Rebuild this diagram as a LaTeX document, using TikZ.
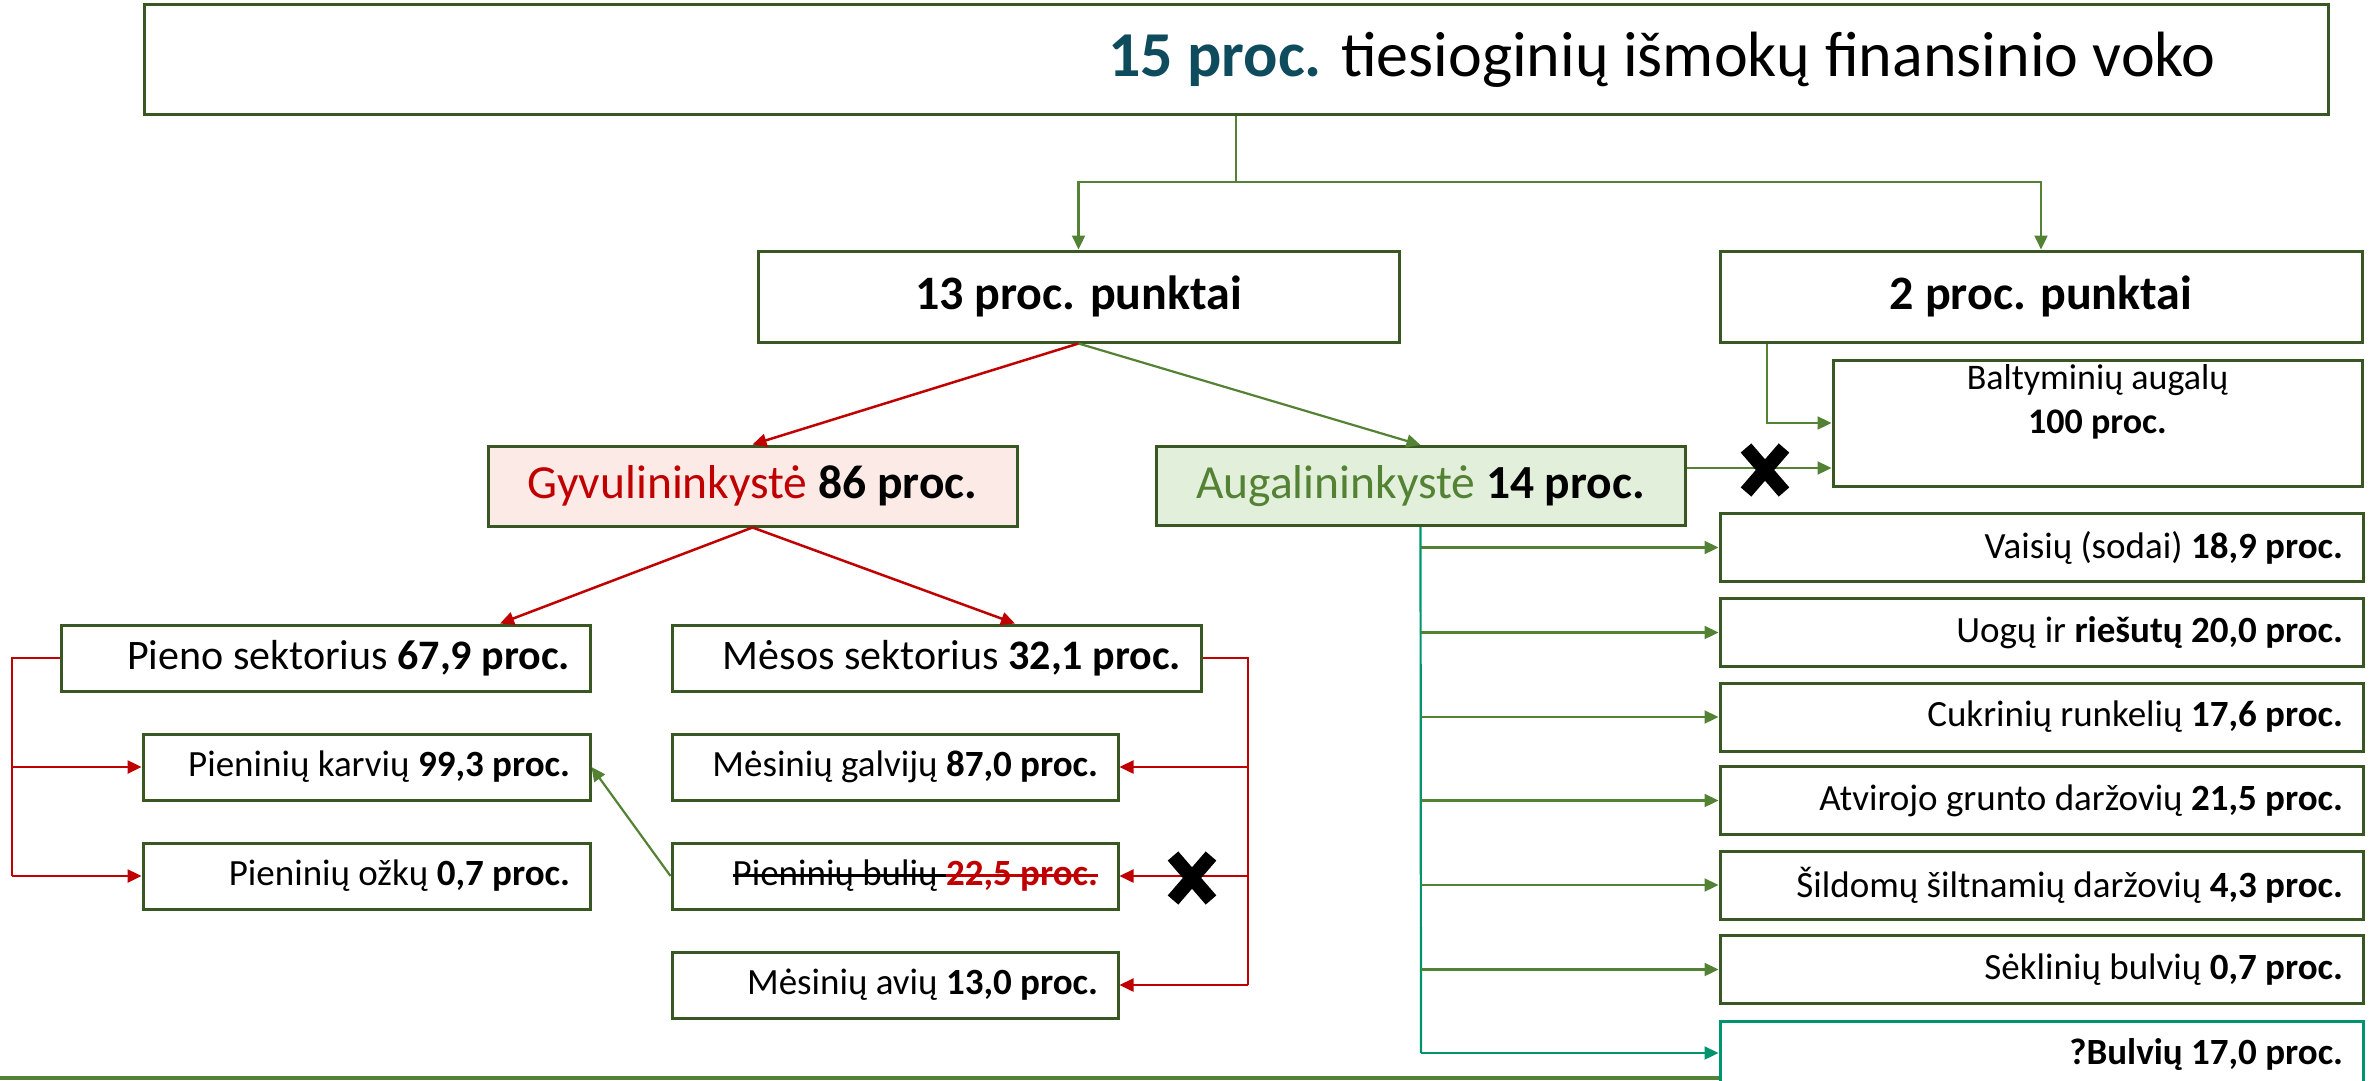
\documentclass[tikz,border=0pt]{standalone}
\usepackage{fontspec}
\setmainfont{Carlito}
\usetikzlibrary{arrows.meta}
\definecolor{bdr}{HTML}{385723}
\definecolor{cg}{HTML}{548235}
\definecolor{cr}{HTML}{C00000}
\definecolor{ct}{HTML}{00936F}
\definecolor{ctop}{HTML}{0E4B5C}
\definecolor{fpink}{HTML}{FBEAE5}
\definecolor{fgreen}{HTML}{E2EFDA}
\newcommand\mystrk[1]{\setbox0=\hbox{#1}\rlap{\rule[0.24em]{\wd0}{2.5pt}}\box0}
\begin{document}
\begin{tikzpicture}[x=1pt,y=-1pt,
  box/.style={draw=bdr, line width=3pt, fill=white, inner sep=0pt, font=\fontsize{37}{44}\selectfont,
    execute at begin node={\spaceskip=0pt\xspaceskip=0pt\leftskip=0pt plus 1fil\rightskip=0pt\parfillskip=0pt\relax}},
  rbox/.style={box, align=flush right, inner xsep=20pt, text width=#1},
  tip/.style={-{Triangle[length=14pt,width=13pt]}},
  gl/.style={draw=cg, line width=2.2pt},
  ga/.style={gl, tip},
  rl/.style={draw=cr, line width=2.5pt},
  ra/.style={rl, tip},
  tl/.style={draw=ct, line width=2.2pt},
  ta/.style={tl, tip},
  xmark/.style={line width=14pt, draw=black}
]
\useasboundingbox (0,0) rectangle (2379,1081);

% top level
\node[box, minimum width=2184pt, minimum height=109pt, align=flush right, inner xsep=112pt, text width=1960pt, font=\fontsize{64}{76}\selectfont] (top) at (1236,59.5) {\textcolor{ctop}{\textbf{15 proc.}} tiesioginių išmokų finansinio voko};

\node[box, minimum width=641pt, minimum height=91pt, font=\fontsize{48}{56}\selectfont\bfseries] (p13) at (1078.5,296.5) {13 proc. punktai};
\node[box, minimum width=642pt, minimum height=91pt, font=\fontsize{48}{56}\selectfont\bfseries] (p2) at (2041,296.5) {2 proc. punktai};

\node[box, minimum width=529pt, minimum height=126pt] (bal) at (2097.5,423) {};
\node[font=\fontsize{36}{44}\selectfont, align=center, anchor=north, inner sep=0pt, execute at begin node={\spaceskip=0pt\relax}] (baltxt) at ([yshift=-6pt]bal.north) {Baltyminių augalų\\\textbf{100 proc.}};

\node[box, fill=fpink, minimum width=529pt, minimum height=80pt, font=\fontsize{47.5}{56}\selectfont] (gyv) at (752.5,486) {\textcolor{cr}{Gyvulininkystė} \textbf{86 proc.}};
\node[box, fill=fgreen, minimum width=529pt, minimum height=79pt, font=\fontsize{47.5}{56}\selectfont] (aug) at (1420.5,486) {\textcolor{cg}{Augalininkystė} \textbf{14 proc.}};

% livestock
\node[rbox=489pt, minimum height=66pt, font=\fontsize{42}{50}\selectfont] (pie) at (325.5,658) {Pieno sektorius \textbf{67,9 proc.}};
\node[rbox=489pt, minimum height=66pt, font=\fontsize{42}{50}\selectfont] (mes) at (936.5,658) {Mėsos sektorius \textbf{32,1 proc.}};
\node[rbox=407pt, minimum height=66pt] (kar) at (366.5,767) {Pieninių karvių \textbf{99,3 proc.}};
\node[rbox=407pt, minimum height=66pt] (ozk) at (366.5,876) {Pieninių ožkų \textbf{0,7 proc.}};
\node[rbox=406pt, minimum height=66pt] (gal) at (895,767) {Mėsinių galvijų \textbf{87,0 proc.}};
\node[rbox=406pt, minimum height=66pt] (bul) at (895,876) {\mystrk{Pieninių bulių }\textcolor{cr}{\mystrk{\bfseries 22,5 proc.}}};
\node[rbox=406pt, minimum height=66pt] (avi) at (895,985) {Mėsinių avių \textbf{13,0 proc.}};

% crops
\node[rbox=603pt, minimum height=68pt] (vai) at (2041.5,547.5) {Vaisių (sodai) \textbf{18,9 proc.}};
\node[rbox=603pt, minimum height=68pt] (uog) at (2041.5,632.5) {Uogų ir \textbf{riešutų 20,0 proc.}};
\node[rbox=603pt, minimum height=68pt] (cuk) at (2041.5,717) {Cukrinių runkelių \textbf{17,6 proc.}};
\node[rbox=603pt, minimum height=68pt] (atv) at (2041.5,800.5) {Atvirojo grunto daržovių \textbf{21,5 proc.}};
\node[rbox=603pt, minimum height=68pt] (sil) at (2041.5,885) {Šildomų šiltnamių daržovių \textbf{4,3 proc.}};
\node[rbox=603pt, minimum height=68pt] (sek) at (2041.5,969.5) {Sėklinių bulvių \textbf{0,7 proc.}};
\node[rbox=603pt, draw=ct, minimum height=68pt, font=\fontsize{37}{44}\selectfont\bfseries] (bulv) at (2041.5,1055) {?Bulvių 17,0 proc.};

% connectors top
\coordinate (j1) at (1236,182);
\draw[gl] (top.south) -- (j1);
\draw[ga] (j1) -| (p13.north);
\draw[ga] (j1) -| (p2.north);
\draw[ga] ([xshift=-274pt]p2.south) |- (bal.west);
\draw[ra] (p13.south) -- (gyv.north);
\draw[ga] (p13.south) -- (aug.north);
\draw[ga] ([yshift=18pt]aug.east) -- ([yshift=18pt]aug.east -| bal.west);
\draw[xmark] (1746,448) -- (1784,492) (1746,492) -- (1784,448);

% livestock connectors
\draw[ra] (gyv.south) -- ([xshift=174.5pt]pie.north);
\draw[ra] (gyv.south) -- ([xshift=78.5pt]mes.north);
\coordinate (pl) at (12,658);
\coordinate (plb) at (12,876);
\draw[rl] (pie.west) -- (pl) -- (plb);
\draw[ra] (pl |- kar.west) -- (kar.west);
\draw[ra] (plb) -- (ozk.west);
\coordinate (mr) at (1248,658);
\coordinate (mrb) at (1248,985);
\draw[rl] (mes.east) -- (mr) -- (mrb);
\draw[ra] (mr |- gal.east) -- (gal.east);
\draw[ra] (mr |- bul.east) -- (bul.east);
\draw[ra] (mrb) -- (avi.east);
\draw[xmark] (1173,856) -- (1211,900) (1173,900) -- (1211,856);
\draw[ga] (bul.west) -- (kar.east);

% crop connectors
\coordinate (ab) at (1421,1053);
\draw[tl] (aug.south) -- (ab);
\draw[ga] (ab |- vai.west) -- (vai.west);
\draw[ga] (ab |- uog.west) -- (uog.west);
\draw[ga] (ab |- cuk.west) -- (cuk.west);
\draw[ga] (ab |- atv.west) -- (atv.west);
\draw[ga] (ab |- sil.west) -- (sil.west);
\draw[ga] (ab |- sek.west) -- (sek.west);
\draw[ta] (ab) -- (ab -| bulv.west);

% bottom line
\coordinate (bl) at (0,1078);
\draw[draw=cg, line width=4pt] (bl) -- (bl -| bulv.west);
\end{tikzpicture}
\end{document}
